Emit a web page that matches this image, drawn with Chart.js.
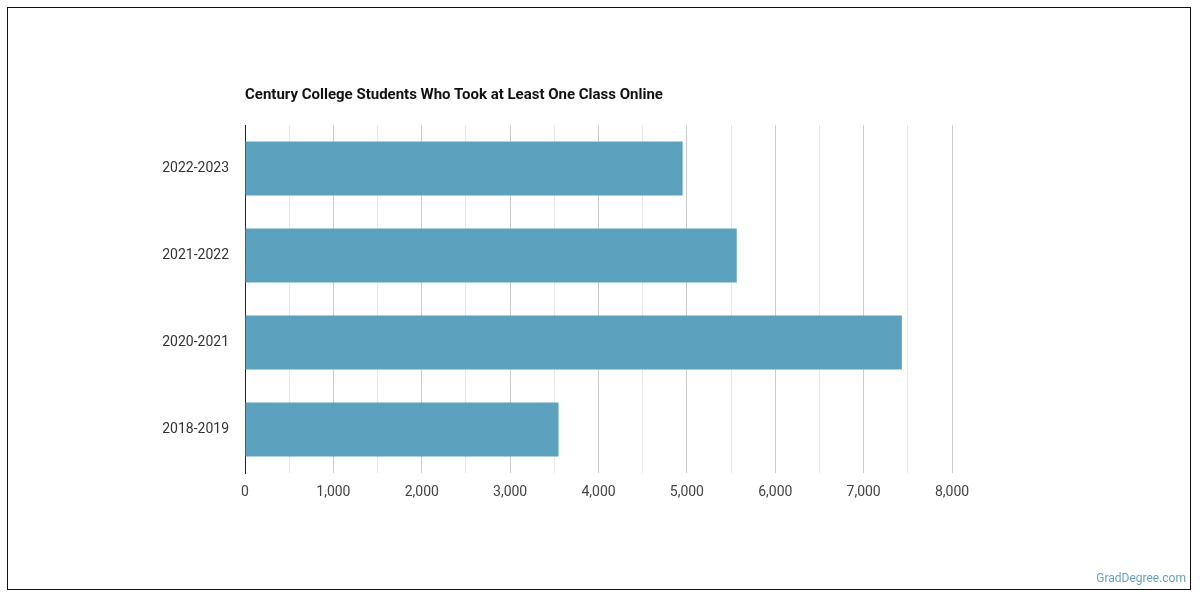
<!DOCTYPE html>
<html>
<head>
<meta charset="utf-8">
<script src="https://cdn.jsdelivr.net/npm/chart.js@4.4.0/dist/chart.umd.min.js"></script>
<style>
  html, body { margin: 0; padding: 0; background: #fff; }
  #wrap { position: relative; width: 1200px; height: 600px; font-family: Roboto, 'Liberation Sans', sans-serif; }
  #frame { position: absolute; left: 7px; top: 7px; width: 1184px; height: 583px; border: 1px solid #111; box-sizing: border-box; }
  #title { position: absolute; left: 245px; top: 85px; font-size: 15px; font-weight: bold; color: #111; }
  #credit { position: absolute; right: 14px; top: 571px; font-size: 12px; color: #6a9fbd; }
  canvas { position: absolute; left: 0; top: 0; }
</style>
</head>
<body>
<div id="wrap">
  <div id="frame"></div>
  <canvas id="chart" width="1200" height="600"></canvas>
  <div id="title">Century College Students Who Took at Least One Class Online</div>
  <div id="credit">GradDegree.com</div>
</div>
<script>
const years = ['2022-2023', '2021-2022', '2020-2021', '2018-2019'];
const students = [4952, 5564, 7433, 3548];
const xMax = 8000;

const ctx = document.getElementById('chart').getContext('2d');
const chart = new Chart(ctx, {
  type: 'bar',
  data: {
    labels: years,
    datasets: [{
      data: students,
      backgroundColor: '#5ca2be',
      barPercentage: 0.62,
      categoryPercentage: 1
    }]
  },
  options: {
    indexAxis: 'y',
    responsive: false,
    animation: false,
    layout: { padding: { left: 9, right: 248, top: 125, bottom: 87 } },
    plugins: { legend: { display: false }, tooltip: { enabled: false } },
    scales: {
      x: {
        min: 0,
        max: xMax,
        afterFit: s => { s.height = 40; },
        ticks: {
          stepSize: 500,
          autoSkip: false,
          maxRotation: 0,
          padding: 11,
          color: '#444',
          font: { family: 'Roboto', size: 14 },
          callback: v => v % 1000 === 0 ? v.toLocaleString('en-US') : ''
        },
        grid: {
          drawTicks: false,
          color: c => c.tick && c.tick.value % 1000 === 0 ? '#cccccc' : '#e8e8e8'
        },
        border: { display: false }
      },
      y: {
        afterFit: s => { s.width = 236; },
        ticks: {
          padding: 8,
          color: '#333',
          font: { family: 'Roboto', size: 14 }
        },
        grid: { display: false },
        border: { display: true, color: '#222', width: 1 }
      }
    }
  }
});
</script>
</body>
</html>
